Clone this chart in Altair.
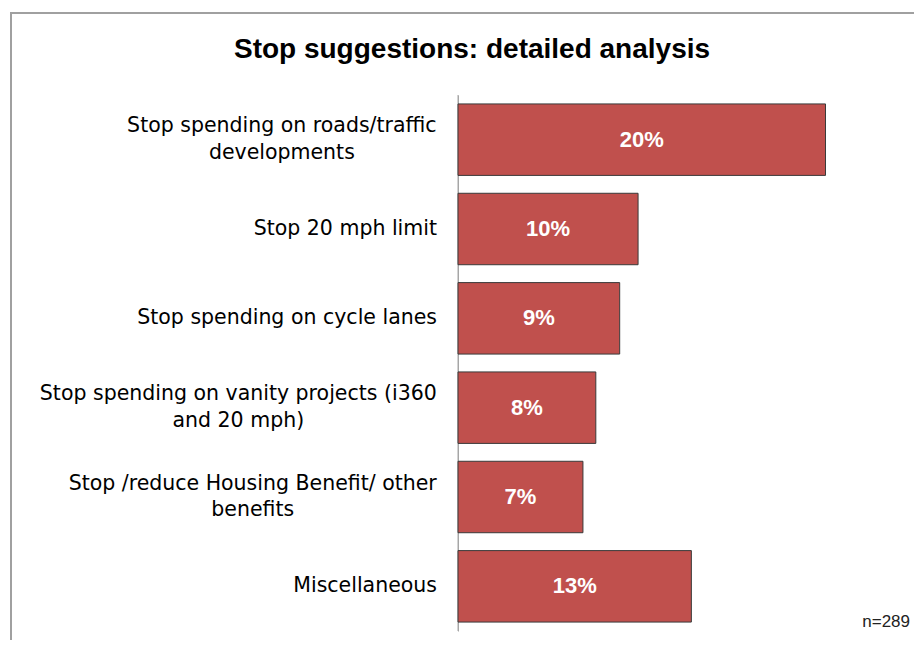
import altair as alt
import pandas as pd

# ---- data ----
categories = [
    "Stop spending on roads/traffic\ndevelopments",
    "Stop 20 mph limit",
    "Stop spending on cycle lanes",
    "Stop spending on vanity projects (i360\nand 20 mph)",
    "Stop /reduce Housing Benefit/ other\nbenefits",
    "Miscellaneous",
]
values = [20.0, 9.8, 8.8, 7.5, 6.8, 12.7]
value_labels = ["20%", "10%", "9%", "8%", "7%", "13%"]
title_text = "Stop suggestions: detailed analysis"
note_text = "n=289"

# ---- text measuring (DejaVu Sans advance widths, units per em 2048) ----
LABEL_FONT = "DejaVu Sans"
LABEL_SIZE = 20.5
LABEL_GAP = 21
LINE_H = 26.5
DEJAVU = {
    " ": 651, "(": 799, ")": 799, "/": 690, "=": 1716, "%": 1947,
    "B": 1405, "H": 1540, "M": 1767, "S": 1300,
    "a": 1255, "b": 1300, "c": 1126, "d": 1300, "e": 1260, "f": 721,
    "g": 1300, "h": 1298, "i": 569, "j": 569, "k": 1186, "l": 569,
    "m": 1995, "n": 1298, "o": 1253, "p": 1300, "r": 842, "s": 1067,
    "t": 803, "u": 1298, "v": 1212, "y": 1212, "x": 1212,
}
for d in "0123456789":
    DEJAVU[d] = 1303


def text_width(s, size):
    return sum(DEJAVU.get(ch, 1200) for ch in s) / 2048 * size


label_x = [
    -(LABEL_GAP + max(text_width(line, LABEL_SIZE) for line in c.split("\n")) / 2)
    for c in categories
]

df = pd.DataFrame(
    {"category": categories, "value": values, "label": value_labels, "label_x": label_x}
)

X_DOMAIN = [0, 24]
y_enc = alt.Y(
    "category:N",
    sort=categories,
    scale=alt.Scale(paddingInner=0.2, paddingOuter=0.1),
    axis=alt.Axis(
        labels=False, ticks=False, domain=True, domainColor="#a6a6a6",
        domainWidth=1, title=None, grid=False,
    ),
)

base = alt.Chart(df)

axis_line = alt.Chart(alt.Data(values=[{"t": 1}])).mark_rule(
    color="#a6a6a6", strokeWidth=1
).encode(x=alt.value(0), y=alt.value(0), y2=alt.value(536))

bars = base.mark_bar(color="#C0504D", stroke="#3a3a3a", strokeWidth=1).encode(
    x=alt.X("value:Q", scale=alt.Scale(domain=X_DOMAIN), axis=None),
    y=y_enc,
)

bar_text = (
    base.transform_calculate(mid="datum.value / 2")
    .mark_text(font="Liberation Sans", fontSize=22, fontWeight="bold", color="white",
               baseline="middle", align="center")
    .encode(
        x=alt.X("mid:Q", scale=alt.Scale(domain=X_DOMAIN), axis=None),
        y=y_enc,
        text="label:N",
    )
)


def cat_layer(multi):
    expr = "indexof(datum.category, '\\n') >= 0"
    if not multi:
        expr = "indexof(datum.category, '\\n') < 0"
    return (
        base.transform_filter(expr)
        .mark_text(
            font=LABEL_FONT, fontSize=LABEL_SIZE, color="black", align="center",
            baseline="middle", lineBreak="\n", lineHeight=LINE_H,
            dy=-LINE_H / 2 if multi else 0,
        )
        .encode(
            x=alt.X("label_x:Q", scale=None, axis=None),
            y=y_enc,
            text="category:N",
        )
    )


title = alt.Chart(alt.Data(values=[{"t": title_text}])).mark_text(
    font="Liberation Sans", fontSize=28, fontWeight="bold", color="black",
    align="center", baseline="alphabetic",
).encode(x=alt.value(14), y=alt.value(-37), text="t:N")

note = alt.Chart(alt.Data(values=[{"t": note_text}])).mark_text(
    font="Liberation Sans", fontSize=17, color="#222222", align="right",
    baseline="alphabetic",
).encode(x=alt.value(452), y=alt.value(532), text="t:N")

frame = alt.Chart(alt.Data(values=[{"t": 1}])).mark_rect(
    fill="transparent", stroke="#a0a0a0", strokeWidth=2
).encode(
    x=alt.value(-447), x2=alt.value(480), y=alt.value(-82), y2=alt.value(600)
)

chart = (
    alt.layer(frame, axis_line, bars, bar_text, cat_layer(False), cat_layer(True),
              title, note)
    .resolve_scale(x="independent")
    .properties(
        width=441,
        height=536,
        autosize=alt.AutoSizeParams(type="none"),
        padding={"left": 450, "top": 87, "right": 15, "bottom": 9},
        background="white",
    )
    .configure_view(stroke=None)
)

chart.save("out.html", embed_options={"renderer": "svg", "actions": False})
